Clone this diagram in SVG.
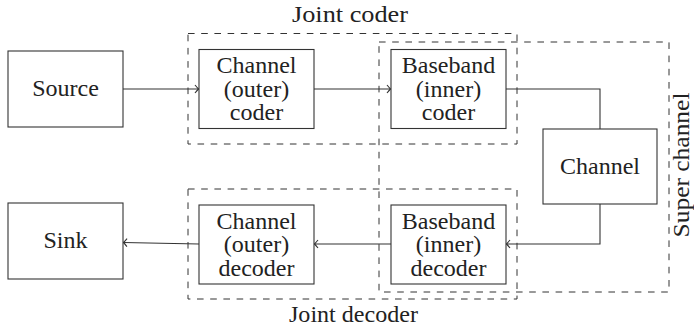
<svg xmlns="http://www.w3.org/2000/svg" width="694" height="326" viewBox="0 0 694 326">
<style>
.box{fill:#fff;stroke:#333;stroke-width:1.1}
.grp{fill:none;stroke:#333;stroke-width:1;stroke-dasharray:6.6 6.6}
.wire{fill:none;stroke:#333;stroke-width:1.1}
.t{font-family:"Times New Roman",Times,Tinos,"Liberation Serif","Noto Serif","DejaVu Serif",serif;font-size:24px;fill:#222;text-anchor:middle}
</style>
<defs>
<marker id="arr" viewBox="-6 -5 8 10" markerWidth="8" markerHeight="10" refX="0" refY="0" orient="auto" markerUnits="userSpaceOnUse">
<path d="M-3.5,-4 Q-1,-1 0,0 Q-1,1 -3.5,4" fill="none" stroke="#333" stroke-width="1.1"/>
</marker>
</defs>
<rect fill="#fff" width="694" height="326"/>
<g id="groups">
<rect id="joint-coder" class="grp" x="188" y="33.5" width="329" height="110.5"/>
<rect id="super-channel" class="grp" x="379" y="42" width="290" height="250"/>
<rect id="joint-decoder" class="grp" x="188" y="189" width="329" height="110"/>
<text class="t" x="350" y="22" textLength="116" lengthAdjust="spacingAndGlyphs">Joint coder</text>
<text class="t" x="353.5" y="322" textLength="129" lengthAdjust="spacingAndGlyphs">Joint decoder</text>
<text class="t" transform="translate(689,165) rotate(-90)" textLength="145" lengthAdjust="spacingAndGlyphs">Super channel</text>
</g>
<g id="connectors">
<path class="wire" d="M123,89 H198.5" marker-end="url(#arr)"/>
<path class="wire" d="M314,89 H390.5" marker-end="url(#arr)"/>
<path class="wire" d="M506,89 H600 V129"/>
<path class="wire" d="M600,204 V244 H506.5" marker-end="url(#arr)"/>
<path class="wire" d="M391,244 H314.5" marker-end="url(#arr)"/>
<path class="wire" d="M199,244 L123.5,242.5" marker-end="url(#arr)"/>
</g>
<g id="source">
<rect class="box" x="8" y="51" width="115" height="76"/>
<text class="t" x="65.5" y="96">Source</text>
</g>
<g id="channel-coder">
<rect class="box" x="199" y="49.5" width="115" height="79"/>
<text class="t" x="256.5" y="73">Channel</text>
<text class="t" x="256.5" y="96.5">(outer)</text>
<text class="t" x="256.5" y="120">coder</text>
</g>
<g id="baseband-coder">
<rect class="box" x="391" y="49.5" width="115" height="79"/>
<text class="t" x="448.5" y="73">Baseband</text>
<text class="t" x="448.5" y="96.5">(inner)</text>
<text class="t" x="448.5" y="120">coder</text>
</g>
<g id="channel">
<rect class="box" x="543" y="129" width="114" height="75"/>
<text class="t" x="600" y="174">Channel</text>
</g>
<g id="baseband-decoder">
<rect class="box" x="391" y="205" width="115" height="79"/>
<text class="t" x="448.5" y="228.5">Baseband</text>
<text class="t" x="448.5" y="252">(inner)</text>
<text class="t" x="448.5" y="275.5">decoder</text>
</g>
<g id="channel-decoder">
<rect class="box" x="199" y="205" width="115" height="79"/>
<text class="t" x="256.5" y="228.5">Channel</text>
<text class="t" x="256.5" y="252">(outer)</text>
<text class="t" x="256.5" y="275.5">decoder</text>
</g>
<g id="sink">
<rect class="box" x="8" y="203" width="115" height="76"/>
<text class="t" x="65.5" y="248">Sink</text>
</g>
</svg>
